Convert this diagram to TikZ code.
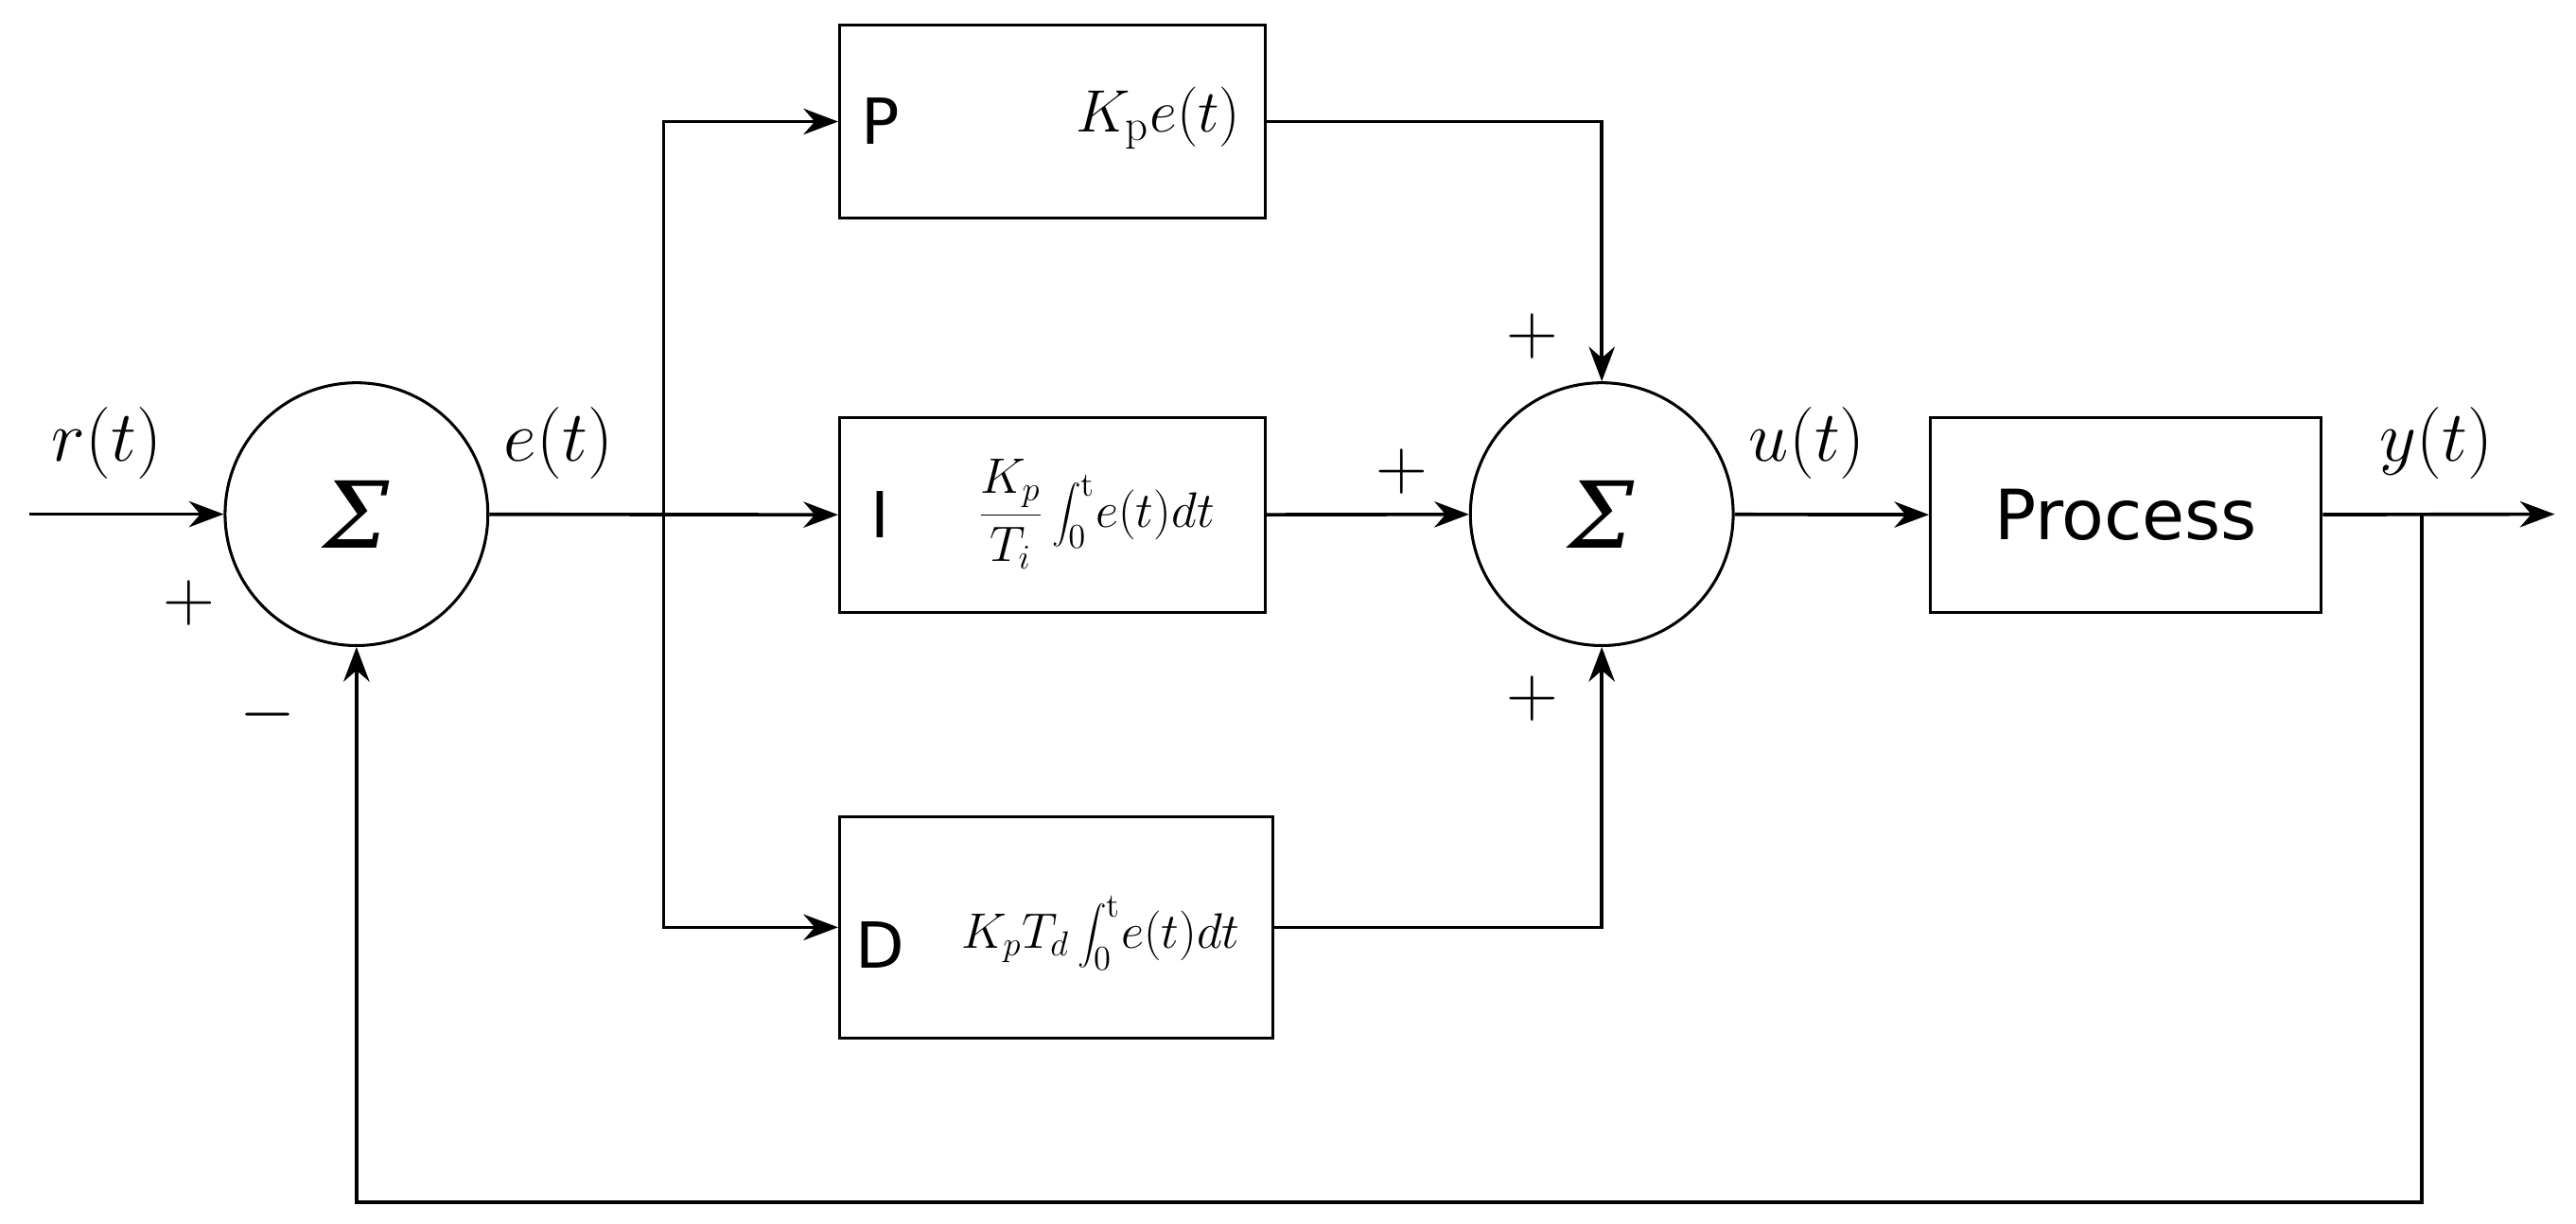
\documentclass[tikz,border=0pt]{standalone}
\usepackage{fontspec}
\newfontfamily\mysf{DejaVu Sans}
\newfontfamily\mygr{DejaVu Serif}
\usetikzlibrary{arrows.meta}
\begin{document}
\begin{tikzpicture}[x=0.02cm,y=-0.02cm,
  line width=1.2pt, >={Stealth[length=12pt,width=9pt]},
  blk/.style={draw,rectangle,line width=1pt},
  sum/.style={draw,circle,minimum size=3.2cm,line width=1pt,font=\mygr\itshape\fontsize{32}{36}\selectfont},
  lbl/.style={font=\fontsize{26}{30}\selectfont},
  sg/.style={font=\fontsize{24}{28}\selectfont},
  sft/.style={font=\mysf\fontsize{22}{26}\selectfont},
  fm/.style={font=\fontsize{17}{22}\selectfont}]
\useasboundingbox (0,0) rectangle (1568,745);
\node[sum] (s1) at (217,313) {Σ};
\node[sum] (s2) at (975,313) {Σ};
\node[blk,minimum width=5.18cm,minimum height=2.36cm] (P) at (640.5,74) {};
\node[blk,minimum width=5.18cm,minimum height=2.38cm] (I) at (640.5,313.5) {};
\node[blk,minimum width=5.28cm,minimum height=2.7cm] (D) at (643,564.5) {};
\node[blk,minimum width=4.76cm,minimum height=2.38cm,font=\mysf\fontsize{24}{28}\selectfont] (pr) at (1294,313.5) {Process};
\node[sft] at (536,74) {P};
\node[sft] at (536,313) {I};
\node[sft] at (536,575) {D};
\node[font=\fontsize{22}{26}\selectfont] at (705,72) {$K_{\mathrm p}e(t)$};
\node[fm] at (667,313) {$\displaystyle\frac{K_p}{T_i}\int_0^{\mathrm t}\!e(t)dt$};
\node[fm] at (670,568) {$\displaystyle K_pT_d\int_0^{\mathrm t}\!e(t)dt$};
\coordinate (in) at (18,313);
\coordinate (br) at (404,313);
\coordinate (fb) at (1474,313);
\coordinate (out) at (1555,313);
\draw[->] (in) -- (s1);
\draw[->] (s1) -- (I);
\draw[->] (br) |- (P);
\draw[->] (br) |- (D);
\draw[->] (P) -| (s2);
\draw[->] (I) -- (s2);
\draw[->] (D) -| (s2);
\draw[->] (s2) -- (pr);
\draw[->] (pr) -- (out);
\draw[->] (fb) -- (1474,732) -| (s1);
\node[lbl] at (65,270) {$r(t)$};
\node[lbl] at (340,270) {$e(t)$};
\node[lbl] at (1100,270) {$u(t)$};
\node[lbl] at (1483,270) {$y(t)$};
\node[sg] at (115,367) {$+$};
\node[sg] at (163,435) {$-$};
\node[sg] at (933,205) {$+$};
\node[sg] at (853,287) {$+$};
\node[sg] at (933,425) {$+$};
\end{tikzpicture}
\end{document}
